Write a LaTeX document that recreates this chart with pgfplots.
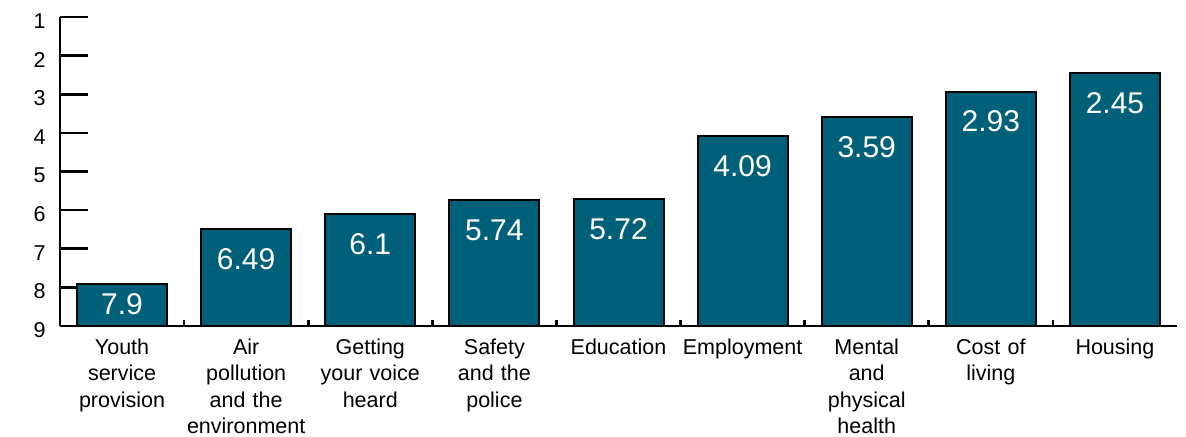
\documentclass[border=0pt]{standalone}
\usepackage{fontspec}
\setmainfont{Liberation Sans}
\usepackage{pgfplots}
\usepackage{pgfplotstable}
\pgfplotsset{compat=1.18}
\definecolor{barcol}{HTML}{00607A}
\pgfplotstableread{
x h label off
0 1.10 7.9 -21
1 2.51 6.49 -30
2 2.90 6.1 -30
3 3.26 5.74 -30
4 3.28 5.72 -30
5 4.91 4.09 -30
6 5.41 3.59 -30
7 6.07 2.93 -30
8 6.55 2.45 -30
}\datatable
\begin{document}
\begin{tikzpicture}
\begin{axis}[
  scale only axis, width=1117pt, height=309pt,
  xmin=-0.5, xmax=8.5, ymin=0, ymax=8,
  axis lines=left,
  axis line style={-, line width=2.6pt, black},
  tick align=inside,
  major tick length=28pt,
  minor tick length=6pt,
  tick style={line width=2.6pt, black},
  xtick={0,...,8},
  x tick style={draw=none},
  minor xtick={0.5,1.5,...,7.5},
  minor x tick style={line width=2.6pt, black, draw=black},
  xticklabels={{Youth\\service\\provision},{Air\\pollution\\and the\\environment},{Getting\\your voice\\heard},{Safety\\and the\\police},{Education},{Employment},{Mental\\and\\physical\\health},{Cost of\\living},{Housing}},
  xticklabel style={text width=140pt, align=center, anchor=north, yshift=-9pt, font=\fontsize{21.5}{26.5}\selectfont},
  ytick={0,...,8},
  yticklabels={9,8,7,6,5,4,3,2,1},
  yticklabel style={font=\fontsize{21.5}{26.5}\selectfont, xshift=-11pt, yshift=-4pt},
  /pgf/number format/assume math mode=true,
  clip=false,
]
\addplot[ybar, bar width=90pt, bar shift=0pt, fill=barcol, draw=black, line width=2pt,
  point meta=explicit symbolic,
  nodes near coords,
  visualization depends on={\thisrow{off} \as \off},
  every node near coord/.append style={anchor=center, yshift=\off pt, text=white, font=\fontsize{30}{30}\selectfont}]
  table[x=x, y=h, meta=label]{\datatable};
\coordinate (bl) at (rel axis cs:0,0);
\coordinate (tr) at (rel axis cs:1,1);
\end{axis}
\pgfresetboundingbox
\path ([shift={(-60pt,-110pt)}]bl) rectangle ([shift={(9pt,17pt)}]tr);
\end{tikzpicture}
\end{document}
